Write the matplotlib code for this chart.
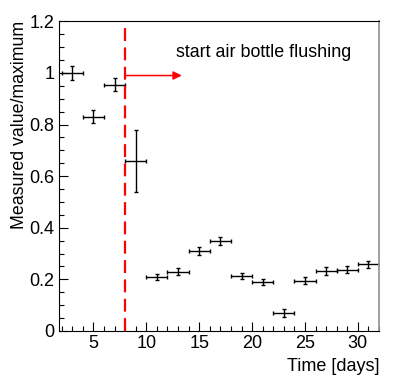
import matplotlib
matplotlib.use("Agg")
import matplotlib.pyplot as plt
from matplotlib.ticker import MultipleLocator

plt.rcParams['font.family'] = ['Liberation Sans', 'DejaVu Sans']

# measured points, one per 2-day bin
days = [3, 5, 7, 9, 11, 13, 15, 17, 19, 21, 23, 25, 27, 29, 31]
rel_value = [1.0, 0.83, 0.955, 0.66, 0.21, 0.23, 0.31, 0.35, 0.213, 0.19,
             0.07, 0.195, 0.232, 0.238, 0.258]
rel_err = [0.026, 0.025, 0.026, 0.12, 0.012, 0.013, 0.015, 0.016, 0.013, 0.012,
           0.014, 0.013, 0.014, 0.014, 0.014]
day_halfwidth = [1] * len(days)

flush_day = 8
arrow_end = 13.35
arrow_y = 0.99
note = "start air bottle flushing"

fig = plt.figure(figsize=(3.99, 3.88), dpi=100)
ax = fig.add_axes([0.148, 0.147, 0.802, 0.798])

ax.errorbar(days, rel_value, yerr=rel_err, xerr=day_halfwidth, fmt='none',
            ecolor='black', elinewidth=1.0, capsize=1.5, capthick=1.0)

ax.plot([flush_day, flush_day], [0, 1.2], color='#ff0000', lw=1.6,
        dashes=(5.8, 2.9))
ax.annotate('', xy=(arrow_end, arrow_y), xytext=(flush_day, arrow_y),
            arrowprops=dict(arrowstyle='-|>,head_length=0.5,head_width=0.25',
                            color='#ff0000', lw=1.1, shrinkA=0, shrinkB=0))
ax.text(12.85, 1.08, note, fontsize=12.9, va='center', ha='left')

ax.set_xlim(1.75, 32)
ax.set_ylim(0, 1.2)
ax.xaxis.set_major_locator(MultipleLocator(5))
ax.xaxis.set_minor_locator(MultipleLocator(1))
ax.yaxis.set_major_locator(MultipleLocator(0.2))
ax.yaxis.set_minor_locator(MultipleLocator(0.05))
ax.yaxis.set_major_formatter(plt.FuncFormatter(lambda v, p: f'{v:g}'))
ax.tick_params(which='both', direction='in', labelsize=13, top=False, right=False)
ax.tick_params(which='major', length=6.5, width=0.8)
ax.tick_params(which='minor', length=3.5, width=0.8)
ax.tick_params(axis='x', pad=3)

ax.set_xlabel('Time [days]', fontsize=13, loc='right', labelpad=4)
ax.set_ylabel('Measured value/maximum', fontsize=12.8, loc='top', labelpad=0.5)
ax.spines['right'].set_color('#999999')
ax.spines['right'].set_linewidth(1.3)

fig.savefig('out.png', dpi=100)
